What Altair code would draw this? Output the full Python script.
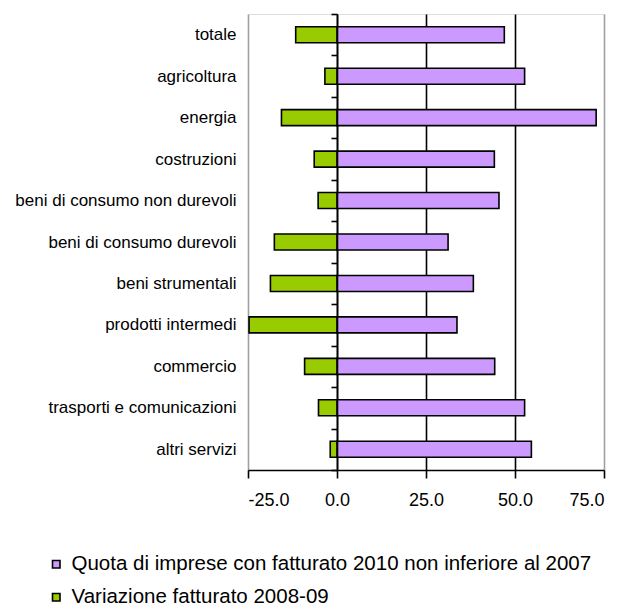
import altair as alt
import pandas as pd

# Sector labels, top to bottom
settori = [
    "totale",
    "agricoltura",
    "energia",
    "costruzioni",
    "beni di consumo non durevoli",
    "beni di consumo durevoli",
    "beni strumentali",
    "prodotti intermedi",
    "commercio",
    "trasporti e comunicazioni",
    "altri servizi",
]

# Share of firms with 2010 turnover not below 2007 (%)
quota = [47.0, 52.7, 72.8, 44.2, 45.5, 31.2, 38.3, 33.7, 44.3, 52.7, 54.6]

# Turnover change 2008-09 (%)
variazione = [-11.6, -3.4, -15.6, -6.4, -5.3, -17.6, -18.7, -24.7, -9.1, -5.2, -1.9]

serie = [
    "Quota di imprese con fatturato 2010 non inferiore al 2007",
    "Variazione fatturato 2008-09",
]
colori = ["#cc99ff", "#99cc00"]

x_ticks = [-25, 0, 25, 50, 75]

df = pd.concat(
    [
        pd.DataFrame({"settore": settori, "serie": serie[0], "valore": quota}),
        pd.DataFrame({"settore": settori, "serie": serie[1], "valore": variazione}),
    ],
    ignore_index=True,
)

FONT = "Liberation Sans, Arial, sans-serif"

bars = (
    alt.Chart(df)
    .mark_bar(size=16, stroke="black", strokeWidth=1.6)
    .encode(
        y=alt.Y(
            "settore:N",
            sort=settori,
            scale=alt.Scale(paddingInner=0, paddingOuter=0),
            axis=alt.Axis(
                title=None,
                orient="left",
                offset=-89,
                domainColor="black",
                domainWidth=1.6,
                tickColor="black",
                tickWidth=1.6,
                tickSize=6,
                tickBand="extent",
                labelFont=FONT,
                labelFontSize=17,
                labelColor="black",
                labelPadding=95,
                labelLimit=400,
                zindex=1,
            ),
        ),
        x=alt.X(
            "valore:Q",
            stack=None,
            scale=alt.Scale(domain=[-25, 75], nice=False),
            axis=alt.Axis(
                title=None,
                values=x_ticks,
                labelExpr="(datum.value < 0 ? '-' : '') + format(abs(datum.value), '.1f')",
                grid=True,
                gridColor={
                    "condition": {
                        "test": "datum.value == -25 || datum.value == 75",
                        "value": "#a0a0a0",
                    },
                    "value": "black",
                },
                gridWidth=1.6,
                domainColor="black",
                domainWidth=1.6,
                tickColor="black",
                tickWidth=1.6,
                tickSize=8,
                labelFont=FONT,
                labelFontSize=18,
                labelColor="black",
                labelPadding=13,
            ),
        ),
        color=alt.Color(
            "serie:N",
            scale=alt.Scale(domain=serie, range=colori),
            legend=alt.Legend(
                title=None,
                orient="none",
                direction="vertical",
                legendX=-202,
                legendY=540,
                symbolType="square",
                symbolSize=56,
                symbolStrokeColor="black",
                symbolStrokeWidth=1.6,
                symbolOpacity=1,
                labelFont=FONT,
                labelFontSize=20.5,
                labelColor="black",
                labelLimit=700,
                rowPadding=12,
                labelOffset=5,
            ),
        ),
    )
)

chart = (
    bars.properties(
        width=356,
        height=456,
        autosize=alt.AutoSizeParams(type="none"),
        padding={"left": 248, "top": 14, "right": 23, "bottom": 141},
    )
    .configure_view(stroke="#a0a0a0", strokeWidth=1.6)
    .configure(background="white")
)

chart.save("out.html", embed_options={"renderer": "svg", "actions": False})
